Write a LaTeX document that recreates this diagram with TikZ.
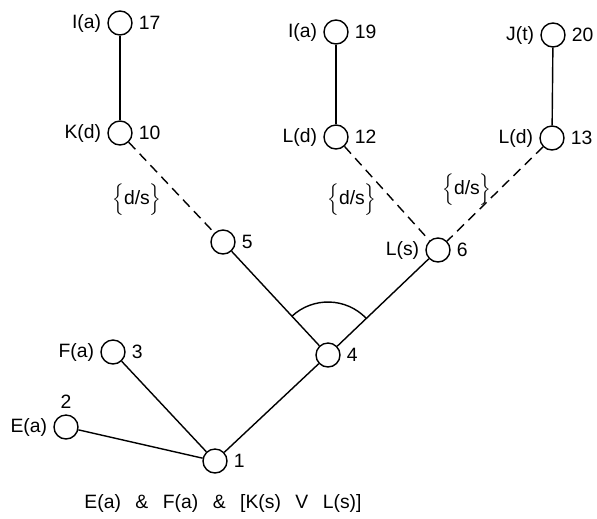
\documentclass[tikz,border=0pt]{standalone}
\usepackage{fontspec}
\setmainfont{Liberation Sans}
\usetikzlibrary{angles}
\tikzset{
myVertex/.style={
	circle,draw,thick,fill=white,
	inner sep=0pt,minimum size=4.8mm
}
, myEdge/.style={thick}
, myDashed/.style={thick,dash pattern=on 5.5pt off 3.5pt}
, myTag/.style={inner sep=1pt}
, every label/.style={font=\fontsize{11}{13}\selectfont}
}
\newcommand{\myGap}{\hspace{0.75em}}
\newcommand{\myDS}{$\Bigl\{$d/s$\Bigr\}$}

\begin{document}
\begin{tikzpicture}[x=0.02cm,y=-0.02cm,font=\fontsize{11}{13}\selectfont]
	\useasboundingbox[fill=white] (0,0) rectangle (597,518);
	% nodes
	\node[myVertex,label=left:{I(a)},label=right:{17}] (N17) at (120,23) {};
	\node[myVertex,label=left:{K(d)},label=right:{10}] (N10) at (120,133) {};
	\node[myVertex,label=left:{I(a)},label=right:{19}] (N19) at (336,32) {};
	\node[myVertex,label=left:{L(d)},label=right:{12}] (N12) at (336,137) {};
	\node[myVertex,label=left:{J(t)},label=right:{20}] (N20) at (553,35) {};
	\node[myVertex,label=left:{L(d)},label=right:{13}] (N13) at (552,138) {};
	\node[myVertex,label=right:{5}] (N5) at (223,242) {};
	\node[myVertex,label=left:{L(s)},label=right:{6}] (N6) at (438,250) {};
	\node[myVertex,label=right:{4}] (N4) at (328,355) {};
	\node[myVertex,label=left:{F(a)},label=right:{3}] (N3) at (113,352) {};
	\node[myVertex,label=left:{E(a)},label=above:{2}] (N2) at (66,427) {};
	\node[myVertex,label=right:{1}] (N1) at (215,461) {};
	% links
	\draw[myEdge] (N17) -- (N10);
	\draw[myEdge] (N19) -- (N12);
	\draw[myEdge] (N20) -- (N13);
	\draw[myDashed] (N10) -- (N5);
	\draw[myDashed] (N12) -- (N6);
	\draw[myDashed] (N13) -- (N6);
	\draw[myEdge] (N5) -- (N4);
	\draw[myEdge] (N6) -- (N4);
	\draw[myEdge] (N4) -- (N1);
	\draw[myEdge] (N3) -- (N1);
	\draw[myEdge] (N2) -- (N1);
	% and-arc
	\pic[draw,thick,angle radius=1.06cm] {angle = N6--N4--N5};
	% tags
	\node[myTag] (D1) at (137,200) {\myDS};
	\node[myTag] (D2) at (352,200) {\myDS};
	\node[myTag] (D3) at (467,190) {\myDS};
	\node[myTag] (Goal) at (223,503)
		{E(a)\myGap\&\myGap F(a)\myGap\&\myGap[K(s)\myGap V\myGap L(s)]};
\end{tikzpicture}
\end{document}
